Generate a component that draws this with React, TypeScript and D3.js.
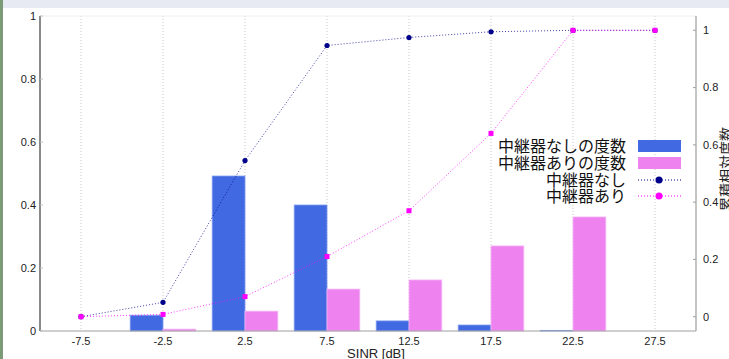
import React from 'react';
import * as d3 from 'd3';

// SINR bin centres [dB]
const bins = [-7.5, -2.5, 2.5, 7.5, 12.5, 17.5, 22.5, 27.5];
const xTicks = ['-7.5', '-2.5', '2.5', '7.5', '12.5', '17.5', '22.5', '27.5'];
// relative frequency (left axis)
const freqWithout = [0, 0.05, 0.492, 0.4, 0.032, 0.019, 0.002, 0];
const freqWith = [0, 0.006, 0.063, 0.133, 0.162, 0.27, 0.362, 0];
// cumulative relative frequency (right axis)
const cumWithout = [0, 0.05, 0.545, 0.947, 0.975, 0.995, 1, 1];
const cumWith = [0, 0.008, 0.07, 0.21, 0.37, 0.64, 1, 1];
const yTicks = [0, 0.2, 0.4, 0.6, 0.8, 1];
const legendLabels = ['中継器なしの度数', '中継器ありの度数', '中継器なし', '中継器あり'];

const width = 729;
const height = 359;
const margin = { top: 16, right: 33, bottom: 28, left: 40 };

const BLUE = '#4169e1';
const PINK = '#ee82ee';
const NAVY = '#00008b';
const MAGENTA = '#ff00ff';

const App: React.FC = () => {
  const x = d3.scaleLinear().domain([-10, 30]).range([margin.left, width - margin.right]);
  const yL = d3.scaleLinear().domain([0, 1]).range([height - margin.bottom, margin.top]);
  const yR = d3.scaleLinear().domain([-0.05, 1.05]).range([height - margin.bottom, margin.top]);

  const lineFn = (vals: number[]) =>
    d3.line<number>()
      .x((_, i) => x(bins[i]))
      .y((d) => yR(d))(vals) as string;

  const tickFont = "'Liberation Sans', Arial, sans-serif";
  const jpFont = "'Noto Sans CJK JP', sans-serif";
  const plotBottom = height - margin.bottom;

  const legendX = 626;
  const legendRows = [146, 163, 180, 196];

  return (
    <svg
      width={width}
      height={height}
      style={{ position: 'absolute', left: 0, top: 0, display: 'block' }}
    >
      <rect x={0} y={0} width={width} height={height} fill="#ffffff" />
      <rect x={0} y={0} width={width} height={8} fill="#e7eaf2" />
      <rect x={0} y={0} width={3} height={height} fill="#7d9a78" />

      {/* vertical grid */}
      {bins.map((b) => (
        <line
          key={'g' + b}
          x1={x(b)}
          x2={x(b)}
          y1={margin.top}
          y2={plotBottom}
          stroke="#c8c8c8"
          strokeWidth={1}
          strokeDasharray="1,2"
        />
      ))}

      {/* top border */}
      <line x1={margin.left} x2={width - margin.right} y1={margin.top} y2={margin.top} stroke="#f0f0f0" />

      {/* bars */}
      {bins.map((b, i) => (
        <g key={'b' + b}>
          {freqWithout[i] > 0 && (
            <rect
              x={x(b - 2)}
              y={yL(freqWithout[i])}
              width={x(b) - x(b - 2)}
              height={plotBottom - yL(freqWithout[i])}
              fill={BLUE}
              stroke="#7f9cf0"
              strokeWidth={0.8}
            />
          )}
          {freqWith[i] > 0 && (
            <rect
              x={x(b)}
              y={yL(freqWith[i])}
              width={x(b + 2) - x(b)}
              height={plotBottom - yL(freqWith[i])}
              fill={PINK}
              stroke="#f5b5f5"
              strokeWidth={0.8}
            />
          )}
        </g>
      ))}

      {/* cumulative lines */}
      <path d={lineFn(cumWithout)} fill="none" stroke={NAVY} strokeWidth={1} strokeDasharray="1,2" opacity={0.75} />
      <path d={lineFn(cumWith)} fill="none" stroke={MAGENTA} strokeWidth={1} strokeDasharray="1,2" opacity={0.75} />
      {bins.map((b, i) => (
        <circle key={'n' + b} cx={x(b)} cy={yR(cumWithout[i])} r={2.6} fill={NAVY} />
      ))}
      {bins.map((b, i) => (
        <rect key={'m' + b} x={x(b) - 2.5} y={yR(cumWith[i]) - 2.5} width={5} height={5} fill={MAGENTA} />
      ))}

      {/* axes lines */}
      <line x1={margin.left} x2={margin.left} y1={margin.top} y2={plotBottom} stroke="#8a8a8a" strokeWidth={2} />
      <line x1={margin.left} x2={width - margin.right} y1={plotBottom} y2={plotBottom} stroke="#a0a0a0" strokeWidth={1.2} />
      <line x1={width - margin.right} x2={width - margin.right} y1={margin.top} y2={plotBottom} stroke="#b0b0b0" strokeWidth={1.5} />

      {/* left axis */}
      {yTicks.map((t) => (
        <g key={'l' + t}>
          <line x1={margin.left} x2={margin.left + 3} y1={yL(t)} y2={yL(t)} stroke="#c0c0c0" />
          <text x={36} y={yL(t)} dy="0.35em" textAnchor="end" fontSize={11} fontFamily={tickFont} fill="#222">
            {t}
          </text>
        </g>
      ))}

      {/* right axis */}
      {yTicks.map((t) => (
        <g key={'r' + t}>
          <line x1={width - margin.right - 3} x2={width - margin.right} y1={yR(t)} y2={yR(t)} stroke="#a0a0a0" />
          <text x={703} y={yR(t)} dy="0.35em" textAnchor="start" fontSize={11} fontFamily={tickFont} fill="#222">
            {t}
          </text>
        </g>
      ))}
      <text
        transform={`translate(726,169) rotate(-90)`}
        textAnchor="middle"
        dy="0.35em"
        fontSize={14}
        fontFamily={jpFont}
        fill="#222"
      >
        累積相対度数
      </text>

      {/* bottom axis */}
      {bins.map((b, i) => (
        <text key={'x' + b} x={x(b)} y={341} dy="0.35em" textAnchor="middle" fontSize={11} fontFamily={tickFont} fill="#222">
          {xTicks[i]}
        </text>
      ))}
      <text x={376} y={358} textAnchor="middle" fontSize={13} fontFamily={tickFont} fill="#222">
        SINR [dB]
      </text>

      {/* legend */}
      {legendLabels.map((l, i) => (
        <text
          key={l}
          x={legendX}
          y={legendRows[i]}
          dy="0.35em"
          textAnchor="end"
          fontSize={16}
          fontFamily={jpFont}
          fill="#111"
        >
          {l}
        </text>
      ))}
      <rect x={638} y={legendRows[0] - 6} width={43} height={12} fill={BLUE} />
      <rect x={638} y={legendRows[1] - 6} width={43} height={12} fill={PINK} />
      <line x1={638} x2={681} y1={legendRows[2]} y2={legendRows[2]} stroke={NAVY} strokeDasharray="1,2" />
      <circle cx={659} cy={legendRows[2]} r={3.5} fill={NAVY} />
      <line x1={638} x2={681} y1={legendRows[3]} y2={legendRows[3]} stroke={MAGENTA} strokeDasharray="1,2" />
      <circle cx={659} cy={legendRows[3]} r={3.5} fill={MAGENTA} />
    </svg>
  );
};

export default App;
